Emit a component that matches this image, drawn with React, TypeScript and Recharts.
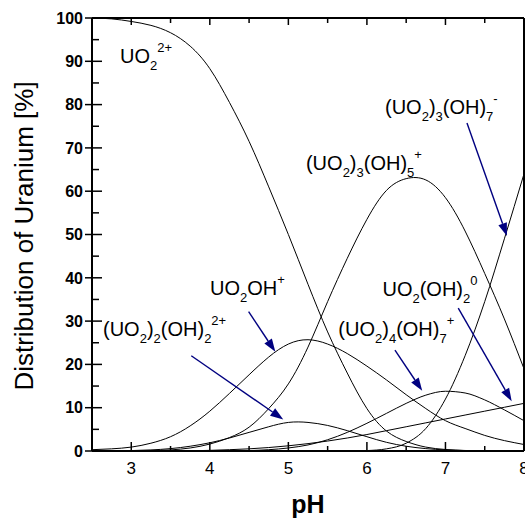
import { LineChart, Line, XAxis, YAxis, ReferenceLine, ReferenceDot } from "recharts";

const FONT = '"Liberation Sans", Arial, Helvetica, sans-serif';

// pH grid and species fractions (%)
const pH = [2.5, 2.75, 3, 3.25, 3.5, 3.75, 4, 4.25, 4.5, 4.75, 5, 5.25, 5.5, 5.75, 6, 6.25, 6.5, 6.75, 7, 7.25, 7.5, 7.75, 8];
const uo2 = [100, 99.8, 99.2, 98.3, 96.6, 93.5, 88.3, 80.5, 71.5, 61, 50, 38.5, 27.5, 18, 9.8, 4.6, 2.2, 0.9, 0.35, 0.12, 0.04, 0.01, 0];
const uo2oh = [0.3, 0.5, 0.9, 1.8, 3.3, 5.8, 9.2, 13.3, 17.6, 21.7, 24.7, 25.7, 24.7, 22.5, 19.6, 16.4, 13, 9.8, 7, 5.2, 3.6, 2.4, 1.5];
const dimer22 = [0, 0.05, 0.1, 0.25, 0.55, 1.1, 1.9, 3, 4.3, 5.6, 6.6, 6.6, 5.9, 4.7, 3.3, 2, 1.1, 0.55, 0.25, 0.1, 0.04, 0.01, 0];
const trimer35 = [0, 0, 0.02, 0.08, 0.25, 0.7, 1.6, 3.1, 5.5, 9.8, 15.5, 24, 34.5, 44.5, 53.5, 60.2, 62.9, 62.6, 58.5, 50.8, 41, 30.5, 19];
const trimer37 = [0, 0, 0, 0, 0, 0, 0, 0, 0, 0, 0, 0, 0, 0, 0.1, 0.5, 1.8, 5.2, 12, 22, 34.5, 49, 64];
const tetramer47 = [0, 0, 0, 0, 0, 0, 0, 0, 0.1, 0.3, 0.7, 1.4, 2.6, 4.3, 6.4, 8.7, 11, 12.9, 13.8, 13.4, 11.8, 9.5, 7];
const neutral = [0, 0, 0, 0, 0, 0.05, 0.15, 0.3, 0.5, 0.8, 1.2, 1.7, 2.3, 3, 3.8, 4.7, 5.6, 6.5, 7.4, 8.3, 9.2, 10.1, 11];

const xTicks = [3, 3.5, 4, 4.5, 5, 5.5, 6, 6.5, 7, 7.5, 8];
const yTicks = [0, 5, 10, 15, 20, 25, 30, 35, 40, 45, 50, 55, 60, 65, 70, 75, 80, 85, 90, 95, 100];

// peaked curves look best as natural splines, the ones with long flat zero runs as monotone
const series: { key: string; curve: "natural" | "monotone" }[] = [
  { key: "uo2", curve: "natural" },
  { key: "uo2oh", curve: "natural" },
  { key: "dimer22", curve: "natural" },
  { key: "trimer35", curve: "natural" },
  { key: "trimer37", curve: "monotone" },
  { key: "tetramer47", curve: "monotone" },
  { key: "neutral", curve: "monotone" },
];

const data = pH.map((p, i) => ({
  pH: p,
  uo2: uo2[i],
  uo2oh: uo2oh[i],
  dimer22: dimer22[i],
  trimer35: trimer35[i],
  trimer37: trimer37[i],
  tetramer47: tetramer47[i],
  neutral: neutral[i],
}));

// 0 = normal, 1 = subscript, 2 = superscript
type Part = [string, number];
const labels: { x: number; y: number; parts: Part[] }[] = [
  { x: 2.856, y: 89.5, parts: [["UO", 0], ["2", 1], ["2+", 2]] },
  { x: 5.224, y: 64.8, parts: [["(UO", 0], ["2", 1], [")", 0], ["3", 1], ["(OH)", 0], ["5", 1], ["+", 2]] },
  { x: 6.23, y: 77.9, parts: [["(UO", 0], ["2", 1], [")", 0], ["3", 1], ["(OH)", 0], ["7", 1], ["-", 2]] },
  { x: 6.198, y: 35.8, parts: [["UO", 0], ["2", 1], ["(OH)", 0], ["2", 1], ["0", 2]] },
  { x: 5.636, y: 26.6, parts: [["(UO", 0], ["2", 1], [")", 0], ["4", 1], ["(OH)", 0], ["7", 1], ["+", 2]] },
  { x: 4.002, y: 36.0, parts: [["UO", 0], ["2", 1], ["OH", 0], ["+", 2]] },
  { x: 2.64, y: 26.6, parts: [["(UO", 0], ["2", 1], [")", 0], ["2", 1], ["(OH)", 0], ["2", 1], ["2+", 2]] },
];

const arrows = [
  { x1: 7.274, y1: 75.75, x2: 7.783, y2: 49.65 },
  { x1: 7.163, y1: 33.0, x2: 7.843, y2: 11.5 },
  { x1: 6.357, y1: 23.3, x2: 6.704, y2: 13.9 },
  { x1: 4.494, y1: 32.2, x2: 4.834, y2: 22.9 },
  { x1: 3.764, y1: 22.0, x2: 4.935, y2: 7.3 },
];

const ChemLabel = ({ cx, cy, parts }: any) => {
  let prev = 0;
  return (
    <text x={cx} y={cy} fontFamily={FONT} fontSize={20} fill="#000">
      {parts.map(([t, kind]: Part, i: number) => {
        const shift = kind === 1 ? 7 : kind === 2 ? -11 : 0;
        const dy = shift - prev;
        prev = shift;
        return (
          <tspan key={i} dy={dy} fontSize={kind === 0 ? 20 : 13}>
            {t}
          </tspan>
        );
      })}
    </text>
  );
};

const ArrowShape = (p: any) => {
  const { x1, y1, x2, y2 } = p;
  const a = Math.atan2(y2 - y1, x2 - x1);
  const L = 13;
  const W = 4.5;
  const bx = x2 - L * Math.cos(a);
  const by = y2 - L * Math.sin(a);
  const pts = `${x2},${y2} ${bx + W * Math.sin(a)},${by - W * Math.cos(a)} ${bx - W * Math.sin(a)},${by + W * Math.cos(a)}`;
  return (
    <g>
      <line x1={x1} y1={y1} x2={bx} y2={by} stroke="#000080" strokeWidth={1.4} />
      <polygon points={pts} fill="#000080" />
    </g>
  );
};

const BottomTick = ({ x, y, payload }: any) => {
  const major = Number.isInteger(payload.value);
  return (
    <g>
      <line x1={x} x2={x} y1={y} y2={y - (major ? 9 : 5)} stroke="#000" strokeWidth={1.5} />
      {major && (
        <text x={x} y={y + 23} textAnchor="middle" fontFamily={FONT} fontSize={17} fill="#000">
          {payload.value}
        </text>
      )}
    </g>
  );
};

const TopTick = ({ x, y, payload }: any) => {
  const major = Number.isInteger(payload.value);
  return <line x1={x} x2={x} y1={y} y2={y + (major ? 7 : 5)} stroke="#000" strokeWidth={1.5} />;
};

const LeftTick = ({ x, y, payload }: any) => {
  const major = payload.value % 10 === 0;
  return (
    <g>
      <line x1={major ? x - 7 : x} x2={x + (major ? 10 : 7)} y1={y} y2={y} stroke="#000" strokeWidth={1.5} />
      {major && (
        <text x={x - 9} y={y} dy="0.36em" textAnchor="end" fontFamily={FONT} fontWeight="bold" fontSize={16} fill="#000">
          {payload.value}
        </text>
      )}
    </g>
  );
};

const RightTick = ({ x, y, payload }: any) => {
  const major = payload.value % 10 === 0;
  return <line x1={x} x2={x - (major ? 7 : 5)} y1={y} y2={y} stroke="#000" strokeWidth={1.5} />;
};

export default function App() {
  return (
    <div style={{ position: "absolute", left: 0, top: 0, width: 525, height: 522, background: "#fff" }}>
      <LineChart width={525} height={522} data={data} margin={{ top: 0, right: 0, bottom: 0, left: 0 }}>
        <XAxis
          xAxisId="bottom"
          dataKey="pH"
          type="number"
          domain={[2.5, 8]}
          allowDataOverflow
          ticks={xTicks}
          interval={0}
          height={71}
          tickSize={0}
          tickMargin={0}
          tickLine={false}
          tick={<BottomTick />}
          axisLine={{ stroke: "#000", strokeWidth: 2 }}
        />
        <XAxis
          xAxisId="top"
          orientation="top"
          dataKey="pH"
          type="number"
          domain={[2.5, 8]}
          allowDataOverflow
          ticks={xTicks}
          interval={0}
          height={18}
          tickSize={0}
          tickMargin={0}
          tickLine={false}
          tick={<TopTick />}
          axisLine={{ stroke: "#000", strokeWidth: 2 }}
        />
        <YAxis
          yAxisId="left"
          type="number"
          domain={[0, 100]}
          allowDataOverflow
          ticks={yTicks}
          interval={0}
          width={92}
          tickSize={0}
          tickMargin={0}
          tickLine={false}
          tick={<LeftTick />}
          axisLine={{ stroke: "#000", strokeWidth: 2 }}
        />
        <YAxis
          yAxisId="right"
          orientation="right"
          type="number"
          domain={[0, 100]}
          ticks={yTicks}
          interval={0}
          width={1}
          tickSize={0}
          tickMargin={0}
          tickLine={false}
          tick={<RightTick />}
          axisLine={{ stroke: "#000", strokeWidth: 2 }}
        />
        {series.map((s) => (
          <Line
            key={s.key}
            xAxisId="bottom"
            yAxisId="left"
            type={s.curve}
            dataKey={s.key}
            stroke="#000"
            strokeWidth={1}
            dot={false}
            activeDot={false}
            isAnimationActive={false}
          />
        ))}
        {arrows.map((a, i) => (
          <ReferenceLine
            key={`a${i}`}
            xAxisId="bottom"
            yAxisId="left"
            segment={[{ x: a.x1, y: a.y1 }, { x: a.x2, y: a.y2 }]}
            ifOverflow="visible"
            shape={ArrowShape}
          />
        ))}
        {labels.map((l, i) => (
          <ReferenceDot
            key={`l${i}`}
            xAxisId="bottom"
            yAxisId="left"
            x={l.x}
            y={l.y}
            r={1}
            ifOverflow="visible"
            shape={(p: any) => <ChemLabel cx={p.cx} cy={p.cy} parts={l.parts} />}
          />
        ))}
      </LineChart>
      <svg width={525} height={522} style={{ position: "absolute", left: 0, top: 0, pointerEvents: "none" }}>
        <text transform="translate(33,236) rotate(-90)" textAnchor="middle" fontFamily={FONT} fontSize={26} fill="#000">
          Distribution of Uranium [%]
        </text>
        <text x={308} y={513} textAnchor="middle" fontWeight="bold" fontFamily={FONT} fontSize={25} fill="#000">
          pH
        </text>
      </svg>
    </div>
  );
}
